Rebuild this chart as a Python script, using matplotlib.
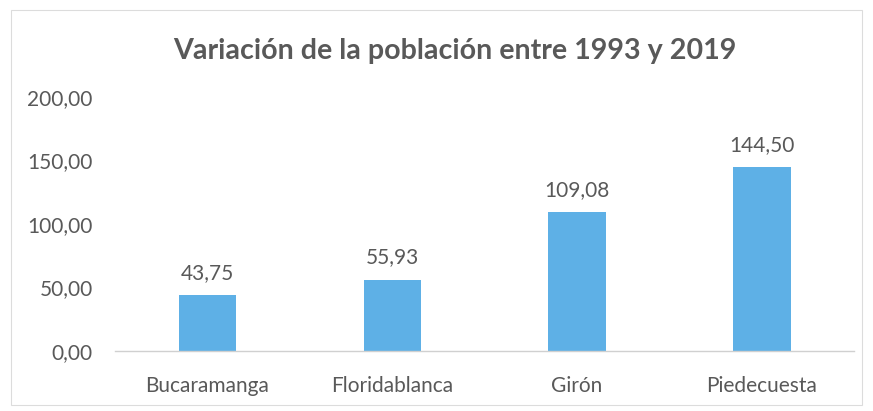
import matplotlib
matplotlib.use("Agg")
from matplotlib import pyplot as plt
from matplotlib.patches import Rectangle

# datos
municipios = ["Bucaramanga", "Floridablanca", "Girón", "Piedecuesta"]
variacion = [43.75, 55.93, 109.08, 144.50]
y_ticks = [0, 50, 100, 150, 200]

plt.rcParams['font.family'] = ['Lato', 'DejaVu Sans']
gris = '#595959'

fig = plt.figure(figsize=(8.73, 4.11), dpi=100)
ax = fig.add_axes([0.1317, 0.146, 0.847, 0.618])

x = range(len(municipios))
bars = ax.bar(x, variacion, width=0.31, color='#5eb0e6', zorder=2)

ax.set_xlim(-0.5, len(municipios) - 0.5)
ax.set_ylim(0, 200)
ax.set_yticks(y_ticks)
ax.set_yticklabels([f"{v:.2f}".replace('.', ',') for v in y_ticks])
ax.set_xticks(list(x))
ax.set_xticklabels(municipios)

ax.tick_params(axis='y', length=0, pad=16, labelsize=15, labelcolor=gris)
ax.tick_params(axis='x', length=0, pad=18, labelsize=15, labelcolor=gris)

for s in ['top', 'right', 'left']:
    ax.spines[s].set_visible(False)
ax.spines['bottom'].set_color('#d0d0d0')
ax.spines['bottom'].set_linewidth(1.0)

for b, v in zip(bars, variacion):
    ax.annotate(f"{v:.2f}".replace('.', ','), (b.get_x() + b.get_width() / 2, v),
                xytext=(0, 9), textcoords='offset points', ha='center', va='bottom',
                fontsize=15, color=gris)

fig.text(0.521, 0.875, "Variación de la población entre 1993 y 2019", ha='center', va='center',
         fontsize=20.6, fontweight='bold', color=gris)

# marco del grafico
fig.patches.append(Rectangle((0.013, 0.015), 0.974, 0.96, transform=fig.transFigure,
                             fill=False, edgecolor='#dcdcdc', linewidth=0.8))

fig.savefig("out.png", dpi=100)
